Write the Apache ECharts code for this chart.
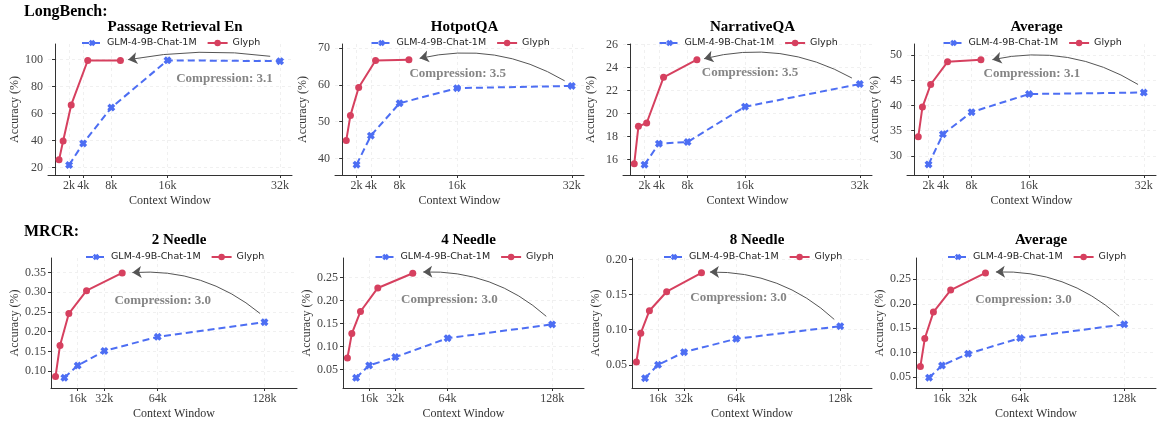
<!DOCTYPE html>
<html>
<head>
<meta charset="utf-8">
<script src="https://cdn.jsdelivr.net/npm/echarts@6/dist/echarts.min.js"></script>
<style>
html,body{margin:0;padding:0;background:#fff;}
#c{width:1158px;height:424px;}
</style>
</head>
<body>
<div id="c"></div>
<script>
// ---------- data ----------
const seriesNames = ['GLM-4-9B-Chat-1M', 'Glyph'];
const rowLabels = ['LongBench:', 'MRCR:'];
const panelTitles = ['Passage Retrieval En', 'HotpotQA', 'NarrativeQA', 'Average', '2 Needle', '4 Needle', '8 Needle', 'Average'];

// x (context window, in k tokens)
const topXTicks = [2, 4, 8, 16, 32];
const bottomXTicks = [16, 32, 64, 128];
const topGlmX = [2, 4, 8, 16, 32];
const topGlyphX = [0.57, 1.15, 2.3, 4.65, 9.3];
const bottomGlmX = [8, 16, 32, 64, 128];
const bottomGlyphX = [2.7, 5.4, 10.7, 21.3, 42.7];

// LongBench
const passageGlm = [22.0, 38.0, 64.5, 99.5, 98.9];
const passageGlyph = [25.8, 39.8, 66.5, 99.4, 99.4];
const hotpotGlm = [38.3, 46.2, 55.0, 59.1, 59.7];
const hotpotGlyph = [44.9, 51.7, 59.3, 66.6, 66.8];
const narrativeGlm = [15.57, 17.39, 17.54, 20.61, 22.58];
const narrativeGlyph = [15.65, 18.9, 19.19, 23.16, 24.70];
const longAvgGlm = [28.3, 34.3, 38.7, 42.3, 42.6];
const longAvgGlyph = [33.8, 39.7, 44.2, 48.7, 49.1];

// MRCR
const needle2Glm = [0.083, 0.114, 0.151, 0.187, 0.224];
const needle2Glyph = [0.086, 0.165, 0.246, 0.304, 0.349];
const needle4Glm = [0.032, 0.059, 0.077, 0.118, 0.148];
const needle4Glyph = [0.075, 0.128, 0.176, 0.227, 0.259];
const needle8Glm = [0.031, 0.050, 0.068, 0.087, 0.105];
const needle8Glyph = [0.054, 0.095, 0.127, 0.154, 0.181];
const mrcrAvgGlm = [0.049, 0.074, 0.098, 0.130, 0.158];
const mrcrAvgGlyph = [0.072, 0.129, 0.183, 0.228, 0.263];

// y tick labels
const passageTicks = [20, 40, 60, 80, 100];
const hotpotTicks = [40, 50, 60, 70];
const narrativeTicks = [16, 18, 20, 22, 24, 26];
const longAvgTicks = [30, 35, 40, 45, 50];
const needle2Ticks = [0.10, 0.15, 0.20, 0.25, 0.30, 0.35];
const needle4Ticks = [0.05, 0.10, 0.15, 0.20, 0.25];
const needle8Ticks = [0.05, 0.10, 0.15, 0.20];
const mrcrAvgTicks = [0.05, 0.10, 0.15, 0.20, 0.25];

// compression annotations
const compressionRatios = ['3.1', '3.5', '3.5', '3.1', '3.0', '3.0', '3.0', '3.0'];
const arrowFrom = [[30.6, 102.5], [31.0, 61.1], [30.9, 23.1], [31.2, 44.2], [125.4, 0.246], [124.4, 0.1655], [124.3, 0.1146], [124.9, 0.1745]];
const arrowTo = [[10.4, 100], [10.8, 67.2], [10.3, 24.78], [10.9, 49.14], [48.8, 0.35], [49.1, 0.2616], [47.9, 0.182], [49.1, 0.265]];
const textAt = [[24.1, 85.7], [16.1, 63.0], [16.7, 23.54], [16.4, 46.36], [67, 0.279], [65.1, 0.2023], [65.5, 0.146], [66.1, 0.2085]];

// ---------- layout ----------
const yRanges = [[14.6, 111.6], [35.5, 71.1], [14.67, 26.06], [26.2, 52.25], [0.057, 0.387], [0.010, 0.292], [0.017, 0.202], [0.028, 0.2935]];
const gridBoxes = [
  [48, 44, 244, 131], [335, 44, 249, 131], [623, 44, 249, 131], [907, 44, 249, 131],
  [51, 258, 246, 130], [343, 258, 241, 130], [632, 258, 240, 130], [916, 258, 240, 130]
];
const glmData = [passageGlm, hotpotGlm, narrativeGlm, longAvgGlm, needle2Glm, needle4Glm, needle8Glm, mrcrAvgGlm];
const glyphData = [passageGlyph, hotpotGlyph, narrativeGlyph, longAvgGlyph, needle2Glyph, needle4Glyph, needle8Glyph, mrcrAvgGlyph];
const yTicks = [passageTicks, hotpotTicks, narrativeTicks, longAvgTicks, needle2Ticks, needle4Ticks, needle8Ticks, mrcrAvgTicks];

const BLUE = '#4d6ef3';
const RED = '#d6405f';
const SERIF = '"Liberation Serif", "Times New Roman", serif';
const SANS = '"DejaVu Sans", sans-serif';
const xSymbol = 'path://M0,3 L3,0 L5,2 L7,0 L10,3 L8,5 L10,7 L7,10 L5,8 L3,10 L0,7 L2,5 Z';

const grids = [], xAxes = [], yAxes = [], series = [], titles = [], legends = [];

rowLabels.forEach((t, r) => {
  titles.push({ text: t, left: 19, top: r === 0 ? -1 : 219,
    textStyle: { fontFamily: SERIF, fontWeight: 'bold', fontSize: 16, color: '#000' } });
});

for (let i = 0; i < 8; i++) {
  const top = i < 4;
  const [l, t, w, h] = gridBoxes[i];
  grids.push({ left: l, top: t, width: w, height: h, containLabel: false });
  const xt = top ? topXTicks : bottomXTicks;
  xAxes.push({
    type: 'value', gridIndex: i,
    min: top ? -1 : 0, max: top ? 33.7 : 147.5,
    name: 'Context Window', nameLocation: 'middle', nameGap: 20,
    nameTextStyle: { fontFamily: SERIF, fontSize: 12, color: '#333' },
    axisLine: { show: true, lineStyle: { color: '#333', width: 1 } },
    axisTick: { show: true, length: 3, customValues: xt, lineStyle: { color: '#333' } },
    axisLabel: { customValues: xt, formatter: v => v + 'k', fontFamily: SERIF, fontSize: 12, color: '#444', margin: 5, hideOverlap: false },
    splitLine: { show: true, lineStyle: { color: '#f0f0f0', type: [3, 3], width: 1 } }
  });
  const yt = yTicks[i];
  yAxes.push({
    type: 'value', gridIndex: i,
    min: yRanges[i][0], max: yRanges[i][1],
    name: 'Accuracy (%)', nameLocation: 'middle', nameGap: top ? 26 : 29,
    nameTextStyle: { fontFamily: SERIF, fontSize: 12, color: '#333' },
    axisLine: { show: true, lineStyle: { color: '#333', width: 1 } },
    axisTick: { show: true, length: 3, customValues: yt, lineStyle: { color: '#333' } },
    axisLabel: { customValues: yt, formatter: v => top ? String(Math.round(v)) : v.toFixed(2), fontFamily: SERIF, fontSize: 12, color: '#444', margin: 5 },
    splitLine: { show: true, lineStyle: { color: '#f0f0f0', type: [3, 3], width: 1 } }
  });
  const gx = top ? topGlmX : bottomGlmX;
  const rx = top ? topGlyphX : bottomGlyphX;
  series.push({
    name: seriesNames[0], type: 'line', xAxisIndex: i, yAxisIndex: i,
    data: gx.map((x, k) => [x, glmData[i][k]]),
    symbol: xSymbol, symbolSize: 8, showAllSymbol: true,
    lineStyle: { color: BLUE, width: 2, type: [7, 4] },
    itemStyle: { color: BLUE }, z: 3, animation: false
  });
  series.push({
    name: seriesNames[1], type: 'line', xAxisIndex: i, yAxisIndex: i,
    data: rx.map((x, k) => [x, glyphData[i][k]]),
    symbol: 'circle', symbolSize: 7, showAllSymbol: true,
    lineStyle: { color: RED, width: 2 },
    itemStyle: { color: RED }, z: 4, animation: false
  });
  series.push({
    type: 'lines', coordinateSystem: 'cartesian2d', xAxisIndex: i, yAxisIndex: i,
    symbol: ['none', 'arrow'], symbolSize: [0, 9], silent: true, animation: false,
    lineStyle: { color: '#555', width: 1, curveness: i === 0 ? -0.08 : -0.2, opacity: 1 },
    data: [{ coords: [arrowFrom[i], arrowTo[i]] }], z: 2
  });
  series.push({
    type: 'scatter', xAxisIndex: i, yAxisIndex: i, symbolSize: 0, silent: true, animation: false,
    data: [textAt[i]],
    label: { show: true, position: 'inside', formatter: 'Compression: ' + compressionRatios[i],
      fontFamily: SERIF, fontWeight: 'bold', fontSize: 13, color: '#666' }
  });
  const cx = l + w / 2;
  titles.push({ text: panelTitles[i], left: cx, textAlign: 'center', top: top ? 15 : 228,
    textStyle: { fontFamily: SERIF, fontWeight: 'bold', fontSize: 15, color: '#000' } });
  legends.push({
    data: seriesNames, left: cx - 89, top: top ? 38 : 252,
    itemWidth: 20, itemHeight: 8, itemGap: 10,
    textStyle: { fontFamily: SANS, fontSize: 9.5, color: '#222' },
    padding: 0, selectedMode: false
  });
}

const chart = echarts.init(document.getElementById('c'), null, { renderer: 'canvas' });
chart.setOption({
  animation: false,
  backgroundColor: '#fff',
  title: titles, legend: legends, grid: grids, xAxis: xAxes, yAxis: yAxes, series: series
});
</script>
</body>
</html>
